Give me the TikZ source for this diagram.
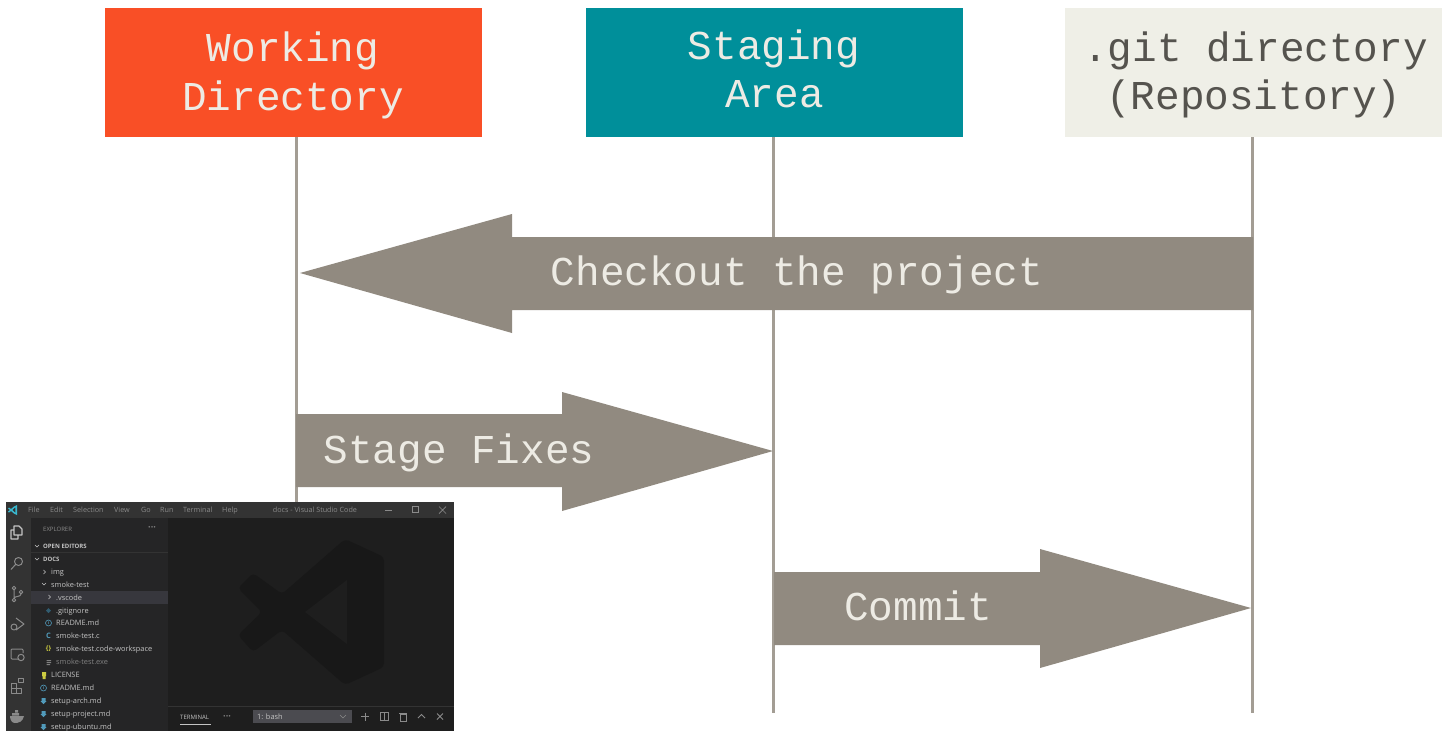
\documentclass[tikz,border=0pt]{standalone}
\usepackage{fontspec}
\setmainfont{Open Sans}
\newfontfamily\monof{Liberation Mono}
\usetikzlibrary{positioning,calc}
\definecolor{gitred}{HTML}{F94F26}
\definecolor{gitteal}{HTML}{008F9A}
\definecolor{gitcream}{HTML}{EFEFE7}
\definecolor{gitgray}{HTML}{918A80}
\definecolor{gitline}{HTML}{A39D94}
\definecolor{gitlight}{HTML}{EDEBE4}
\definecolor{gitdark}{HTML}{55534E}
\definecolor{vstitle}{HTML}{333333}
\definecolor{vsside}{HTML}{252526}
\definecolor{vsmain}{HTML}{1E1E1E}
\definecolor{vslogo}{HTML}{181818}
\definecolor{vsicon}{HTML}{8A8A8A}
\definecolor{vstext}{HTML}{C4C4C4}
\definecolor{vsdim}{HTML}{808080}
\definecolor{vshigh}{HTML}{37373D}
\definecolor{vsblue}{HTML}{519ABA}
\definecolor{vsyellow}{HTML}{CBCB41}
\tikzset{
  x=1pt,y=-1pt,
  gitbox/.style={minimum width=377pt,minimum height=129pt,inner sep=0pt,outer sep=0pt},
  boxtext/.style={inner sep=0pt,text height=34pt,text depth=9pt,font=\monof\fontsize{41}{48}\selectfont},
  lifeline/.style={gitline,line width=3pt},
  bigarrow/.style={fill=gitgray,draw=none},
  arrowlabel/.style={boxtext,text=gitlight},
  menuitem/.style={text=vsicon,inner sep=0pt,anchor=west,text height=7pt,text depth=1.5pt,font=\fontsize{7.2}{8}\selectfont},
  rowtext/.style={text=vstext,inner sep=0pt,anchor=west,text height=7pt,text depth=1.5pt,font=\fontsize{7.4}{9}\selectfont},
  rowdim/.style={rowtext,text=vsdim},
  rowhead/.style={rowtext,font=\bfseries\fontsize{6}{8}\selectfont},
  rowglyph/.style={inner sep=0pt,font=\bfseries\fontsize{7.5}{8}\selectfont},
  vsglyph/.style={vsicon,line width=1pt,line join=round,fill=none},
  chev/.style={vstext,line width=.6pt,line cap=round},
}
\begin{document}
\begin{tikzpicture}
\useasboundingbox (0,0) rectangle (1447,731);
\fill[white] (0,0) rectangle (1447,731);
% boxes
\node[gitbox,fill=gitred] (wd) at (293.5,72.5) {};
\node[gitbox,fill=gitteal] (sa) at (774.5,72.5) {};
\node[gitbox,fill=gitcream] (gd) at (1253.5,72.5) {};
\node[boxtext,text=gitlight] (wd1) at (293,49) {Working};
\node[boxtext,text=gitlight] (wd2) at (293,98) {Directory};
\node[boxtext,text=gitlight] (sa1) at (774,47) {Staging};
\node[boxtext,text=gitlight] (sa2) at (774.5,95) {Area};
\node[boxtext,text=gitdark] (gd1) at (1255.5,49) {.git directory};
\node[boxtext,text=gitdark] (gd2) at (1254,97) {(Repository)};
% lifelines
\coordinate (wdend) at (296,713);
\coordinate (saend) at (773.5,713);
\coordinate (gdend) at (1252,713);
\draw[lifeline] (wd.south -| wdend) -- (wdend);
\draw[lifeline] (sa.south -| saend) -- (saend);
\draw[lifeline] (gd.south -| gdend) -- (gdend);
% arrows
\fill[bigarrow] (300,273) -- (512,214) -- (512,237) -- (1253,237) -- (1253,310) -- (512,310) -- (512,333) -- cycle;
\fill[bigarrow] (296,414) -- (562,414) -- (562,392) -- (773,451) -- (562,511) -- (562,487) -- (296,487) -- cycle;
\fill[bigarrow] (774,572) -- (1040,572) -- (1040,549) -- (1251,608) -- (1040,668) -- (1040,645) -- (774,645) -- cycle;
\node[arrowlabel] (checkout) at (797,273) {Checkout the project};
\node[arrowlabel] (stage) at (459,451) {Stage Fixes};
\node[arrowlabel] (commit) at (918,608) {Commit};
% VS Code window
\fill[vsmain] (6,502) rectangle (454,731);
\fill[vstitle] (6,502) rectangle (454,518);
\fill[vstitle] (6,518) rectangle (31,731);
\fill[vsside] (31,518) rectangle (168,731);
\fill[vshigh] (31,591) rectangle (168,604);
\draw[vstitle,line width=.7pt] (31,552) -- (168,552);
\draw[vstitle,line width=.7pt] (168,706) -- (454,706);
% watermark logo
\fill[vslogo,rounded corners=4pt] (345,539) -- (384,557) -- (384,667) -- (345,685) -- (282,630) -- (253,652) -- (238,635) -- (262,612) -- (238,588) -- (253,573) -- (282,594) -- cycle;
\fill[vsmain] (347,580) -- (305,612) -- (347,644) -- cycle;
% title bar logo
\fill[vsblue!70!cyan] (17,505) -- (14,506.5) -- (11,509) -- (9,507.5) -- (8,508.5) -- (10,510) -- (8,511.5) -- (9,512.5) -- (11,511) -- (14,513.5) -- (17,515) -- cycle;
\fill[vstitle] (15.3,507.5) -- (12.5,510) -- (15.3,512.5) -- cycle;
% menu
\node[menuitem] (m1) at (28,510) {File};
\node[menuitem] (m2) at (50,510) {Edit};
\node[menuitem] (m3) at (73,510) {Selection};
\node[menuitem] (m4) at (114,510) {View};
\node[menuitem] (m5) at (141,510) {Go};
\node[menuitem] (m6) at (160,510) {Run};
\node[menuitem] (m7) at (183,510) {Terminal};
\node[menuitem] (m8) at (222,510) {Help};
\node[menuitem,anchor=center] (title) at (315,510) {docs - Visual Studio Code};
\draw[vsicon,line width=.6pt] (385,510) -- (392,510);
\draw[vsicon,line width=.7pt] (412,506.5) rectangle (418,512.5);
\draw[vsicon,line width=.7pt] (439,506.5) -- (446,513.5) (446,506.5) -- (439,513.5);
% activity bar icons
\draw[vstext,line width=1.1pt,line join=round] (14,526) -- (19,526) -- (22,529) -- (22,535) -- (14,535) -- cycle (14,530) -- (11,530) -- (11,539) -- (18,539) -- (18,535);
\draw[vsglyph] (18.5,561.5) circle (4pt) (15.5,564.5) -- (11,569.5);
\draw[vsglyph] (14,588) circle (1.8pt) (14,600) circle (1.8pt) (21,592) circle (1.8pt) (14,590) -- (14,598) (21,594) .. controls (21,597) and (15,596) .. (14,598);
\draw[vsglyph] (16,618) -- (24,624) -- (16,630) (14,627) circle (3pt);
\draw[vsglyph,rounded corners=1pt] (19,659) -- (11,659) -- (11,649) -- (23,649) -- (23,653);
\draw[vsglyph] (21,657.5) circle (3.2pt);
\draw[vsglyph] (11,683) rectangle (16,688) (16,688) rectangle (21,693) (11,688) rectangle (16,693) (18,678) rectangle (23,682);
\fill[vsicon] (10,716) -- (24,716) .. controls (23,722) and (18,723) .. (15,723) .. controls (12,723) and (10,720) .. (10,716) -- cycle;
\fill[vsicon] (12,713) rectangle (19,715.5) (15,710) rectangle (18,712.5);
% sidebar
\node[rowtext,text=vsicon,font=\fontsize{6}{8}\selectfont] (explorer) at (43,529) {EXPLORER};
\node[rowtext,text=vsicon] (dots) at (148,528) {\textbf{\fontsize{9}{8}\selectfont ···}};
\node[rowhead] (oe) at (43,546) {OPEN EDITORS};
\node[rowhead] (docs) at (43,559) {DOCS};
\draw[chev] (35,545) -- (37,547) -- (39,545);
\draw[chev] (35,558) -- (37,560) -- (39,558);
\draw[chev] (43.5,570) -- (45.5,572) -- (43.5,574);
\draw[chev] (42,583) -- (44,585) -- (46,583);
\draw[chev] (48.5,595) -- (50.5,597) -- (48.5,599);
\node[rowtext] (r1) at (51,572) {img};
\node[rowtext] (r2) at (51,584.5) {smoke-test};
\node[rowtext] (r3) at (56,597.5) {.vscode};
\node[rowtext] (r4) at (56,610.5) {.gitignore};
\node[rowtext] (r5) at (56,623) {README.md};
\node[rowtext] (r6) at (56,636) {smoke-test.c};
\node[rowtext] (r7) at (56,649) {smoke-test.code-workspace};
\node[rowdim] (r8) at (56,662) {smoke-test.exe};
\node[rowtext] (r9) at (51,675) {LICENSE};
\node[rowtext] (r10) at (51,688) {README.md};
\node[rowtext] (r11) at (51,701) {setup-arch.md};
\node[rowtext] (r12) at (51,714) {setup-project.md};
\node[rowtext] (r13) at (51,727) {setup-ubuntu.md};
% file glyphs
\fill[vsblue!60!black] (48.5,608) -- (51,610.5) -- (48.5,613) -- (46,610.5) -- cycle;
\draw[vsblue,line width=.6pt] (48.5,623) circle (3pt);
\node[rowglyph,text=vsblue] (g1) at (48.5,623) {\fontsize{4}{4}\selectfont i};
\node[rowglyph,text=vsblue] (g2) at (48.5,636) {C};
\node[rowglyph,text=vsyellow] (g3) at (48.5,649) {\fontsize{6.5}{7}\selectfont\{\hspace{.3pt}\}};
\fill[vsdim] (46.5,660) rectangle (51,661) (46.5,662) rectangle (51,663) (46.5,664) rectangle (50,665);
\fill[vsyellow] (42,672) rectangle (46,676) (42.5,676) rectangle (45.5,679);
\draw[vsblue,line width=.6pt] (43.5,688) circle (3pt);
\node[rowglyph,text=vsblue] (g4) at (43.5,688) {\fontsize{4}{4}\selectfont i};
\foreach \yy in {701,714,727}{
  \fill[vsblue] (41.5,\yy-3) rectangle (45.5,\yy) (43.5,\yy+3) -- (40.5,\yy) -- (46.5,\yy) -- cycle;
}
% terminal panel
\node[rowtext,font=\fontsize{6}{8}\selectfont] (term) at (180,717) {TERMINAL};
\draw[vstext,line width=.6pt] (180,724.5) -- (211,724.5);
\node[rowtext,text=vsicon] (tdots) at (223,716.5) {\textbf{\fontsize{9}{8}\selectfont ···}};
\node[fill=vshigh!90!white,minimum width=99pt,minimum height=13pt,inner sep=0pt] (sel) at (302.5,716.5) {};
\node[rowtext,anchor=west] (bash) at (257,716.5) {1: bash};
\draw[chev,vsicon] (340,715) -- (343,718) -- (346,715);
\draw[vsicon,line width=.8pt] (361,716.5) -- (369,716.5) (365,712.5) -- (365,720.5);
\draw[vsicon,line width=.8pt] (380,712.5) rectangle (388,720.5) (384,712.5) -- (384,720.5);
\draw[vsicon,line width=.8pt] (400,714) rectangle (406,721) (399,713) -- (407,713);
\draw[vsicon,line width=.8pt] (418,718) -- (421.5,714.5) -- (425,718);
\draw[vsicon,line width=.8pt] (437,713.5) -- (443,719.5) (443,713.5) -- (437,719.5);
\end{tikzpicture}
\end{document}
